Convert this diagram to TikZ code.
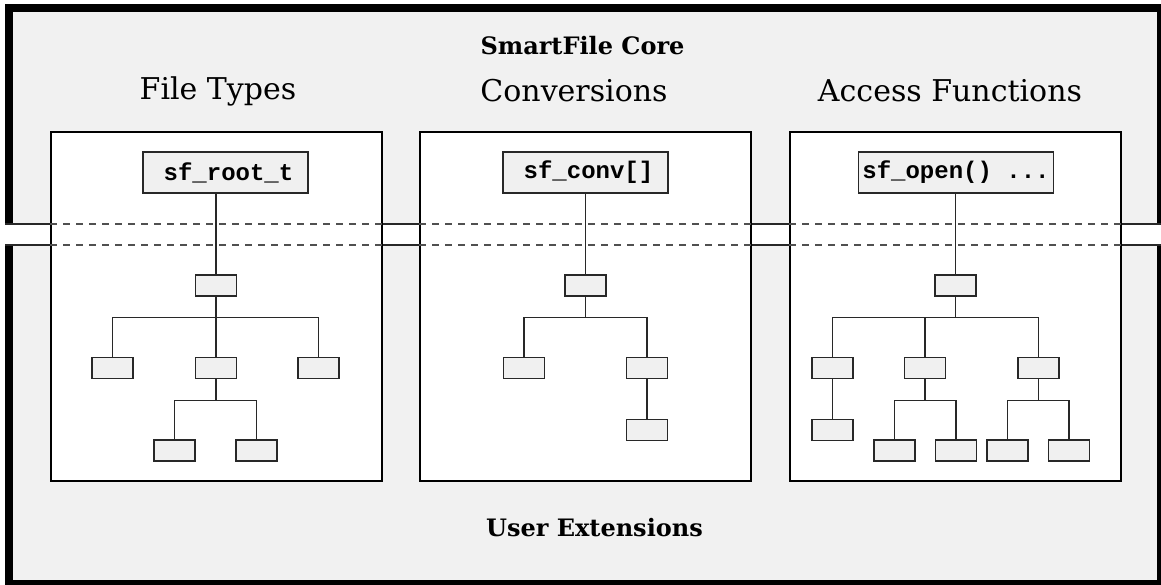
\documentclass[tikz,border=0pt]{standalone}
\usepackage{fontspec}
\setmainfont{DejaVu Serif}
\setmonofont{Liberation Mono}
\usetikzlibrary{positioning}

\definecolor{panelgray}{RGB}{241,241,241}
\definecolor{leafgray}{RGB}{240,240,240}
\definecolor{edgegray}{RGB}{40,40,40}
\definecolor{dashgray}{RGB}{80,80,80}

\begin{document}
\begin{tikzpicture} [x=1pt, y=-1pt, line width=1.3pt,
	module/.style={draw=black, fill=white, minimum width=331pt, minimum height=349pt, inner sep=0pt},
	rootbox/.style={draw=edgegray, fill=leafgray, minimum width=165pt, minimum height=41pt, inner sep=4pt, font=\fontsize{24}{24}\selectfont\ttfamily\bfseries},
	leaf/.style={draw=edgegray, fill=leafgray, minimum width=41pt, minimum height=21pt, inner sep=0pt},
	title/.style={font=\fontsize{24}{24}\selectfont\bfseries},
	heading/.style={font=\fontsize{30}{30}\selectfont},
	gapline/.style={draw=dashgray, dash pattern=on 7pt off 6pt},
	branch/.style={to path={(\tikztostart) -- ([yshift=-21pt]\tikztostart.south) -| (\tikztotarget)}}]

\useasboundingbox (0,0) rectangle (1161,584);

% core and extension panels
\fill[panelgray]	(9,8)	rectangle	(1161,224);
\fill[panelgray]	(9,245)	rectangle	(1161,584);
\draw[line width=8pt]	(9,224) -- (9,8) -- (1161,8) -- (1161,224);
\draw[line width=8pt]	(9,245) -- (9,584) -- (1161,584) -- (1161,245);
\coordinate (gaptop) at (0,224);
\coordinate (gapbot) at (0,245);
\draw[edgegray]	(5,224) -- (1161,224)	(5,245) -- (1161,245);

\node[title]	(core)	at (582.5,46)	{SmartFile Core};
\node[title]	(user)	at (594.5,528)	{User Extensions};

% the three modules
\node[module]	(types)		at (216.5,306.5)	{};
\node[module]	(convs)		at (585.5,306.5)	{};
\node[module]	(access)	at (955.5,306.5)	{};

\node[heading]	(types_head)	at (218,91)	{File Types};
\node[heading]	(convs_head)	at (574,91)	{Conversions};
\node[heading]	(access_head)	at (950,91)	{Access Functions};

\foreach \m in {types,convs,access}
	\draw[gapline]	(\m.west |- gaptop) -- (\m.east |- gaptop)
			(\m.west |- gapbot) -- (\m.east |- gapbot);

% file types tree
\node[rootbox]	(ft0)	at (225.5,172.5)	{\hspace{6pt}sf\_root\_t};
\node[leaf]	(ft1)	at (216,285.5)	{};
\node[leaf]	(ft2)	at (112.5,368)	{};
\node[leaf]	(ft3)	at (216,368)	{};
\node[leaf]	(ft4)	at (318.5,368)	{};
\node[leaf]	(ft5)	at (174.5,450.5)	{};
\node[leaf]	(ft6)	at (256.5,450.5)	{};

% conversions tree
\node[rootbox]	(cv0)	at (585.5,172.5)	{\hspace{6pt}sf\_conv[]};
\node[leaf]	(cv1)	at (585.5,285.5)	{};
\node[leaf]	(cv2)	at (524,368)	{};
\node[leaf]	(cv3)	at (647,368)	{};
\node[leaf]	(cv4)	at (647,430)	{};

% access functions tree
\node[rootbox]	(af0)	at (956,172.5)	{sf\_open() ...};
\node[leaf]	(af1)	at (955.5,285.5)	{};
\node[leaf]	(af2)	at (832.5,368)	{};
\node[leaf]	(af3)	at (925,368)	{};
\node[leaf]	(af4)	at (1038.5,368)	{};
\node[leaf]	(af5)	at (832.5,430)	{};
\node[leaf]	(af6)	at (894.5,450.5)	{};
\node[leaf]	(af7)	at (956,450.5)	{};
\node[leaf]	(af8)	at (1007.5,450.5)	{};
\node[leaf]	(af9)	at (1069,450.5)	{};

\path[draw=edgegray]	(ft1)	edge		(ft1 |- ft0.south)
			edge	[branch]	(ft2)
			edge	[branch]	(ft3)
			edge	[branch]	(ft4)
		(ft3)	edge	[branch]	(ft5)
			edge	[branch]	(ft6)
		(cv1)	edge		(cv1 |- cv0.south)
			edge	[branch]	(cv2)
			edge	[branch]	(cv3)
		(cv3)	edge		(cv4)
		(af1)	edge		(af1 |- af0.south)
			edge	[branch]	(af2)
			edge	[branch]	(af3)
			edge	[branch]	(af4)
		(af2)	edge		(af5)
		(af3)	edge	[branch]	(af6)
			edge	[branch]	(af7)
		(af4)	edge	[branch]	(af8)
			edge	[branch]	(af9)
;

\end{tikzpicture}
\end{document}
